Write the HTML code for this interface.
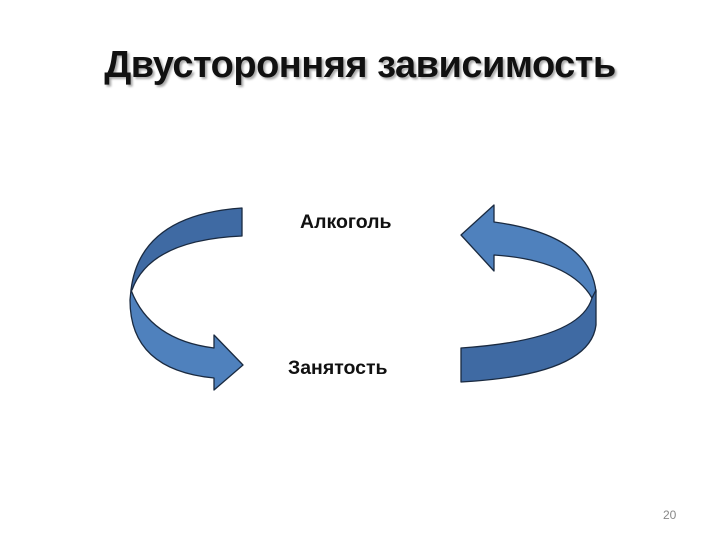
<!DOCTYPE html>
<html><head><meta charset="utf-8"><style>
body{margin:0;width:720px;height:540px;background:#fff;overflow:hidden;position:relative;font-family:"Liberation Sans",sans-serif}
.t{position:absolute;left:0;width:720px;top:44px;text-align:center;font-size:38px;font-weight:bold;color:#111;text-shadow:2px 2px 2px #aaa;letter-spacing:-0.5px}
.l{position:absolute;font-size:19.5px;font-weight:bold;color:#111}
.n{position:absolute;left:663px;top:508px;font-size:12px;color:#888}
</style></head><body>
<div class="t">Двусторонняя зависимость</div>
<div class="l" style="left:300px;top:211px">Алкоголь</div>
<div class="l" style="left:288px;top:357px">Занятость</div>
<svg width="720" height="540" style="position:absolute;left:0;top:0">
<g stroke="#1a2a40" stroke-width="1.3" stroke-linejoin="round">
<path d="M242,208 Q140,215 131,290 L132,290 Q150,240 242,236 Z" fill="#3f6aa3"/>
<path d="M131,290 Q150,340 214,348 L214,335 L243,365 L214,390 L214,378 Q130,370 130,300 Z" fill="#4f81bd"/>
<path d="M461,235 L494,205 L494,222 Q590,235 596,292 L592,298 Q570,260 494,255 L494,271 Z" fill="#4f81bd"/>
<path d="M596,290 L596,325 Q590,375 461,382 L461,348 Q580,340 592,298 Z" fill="#3f6aa3"/>
</g></svg>
<div class="n">20</div>
</body></html>
